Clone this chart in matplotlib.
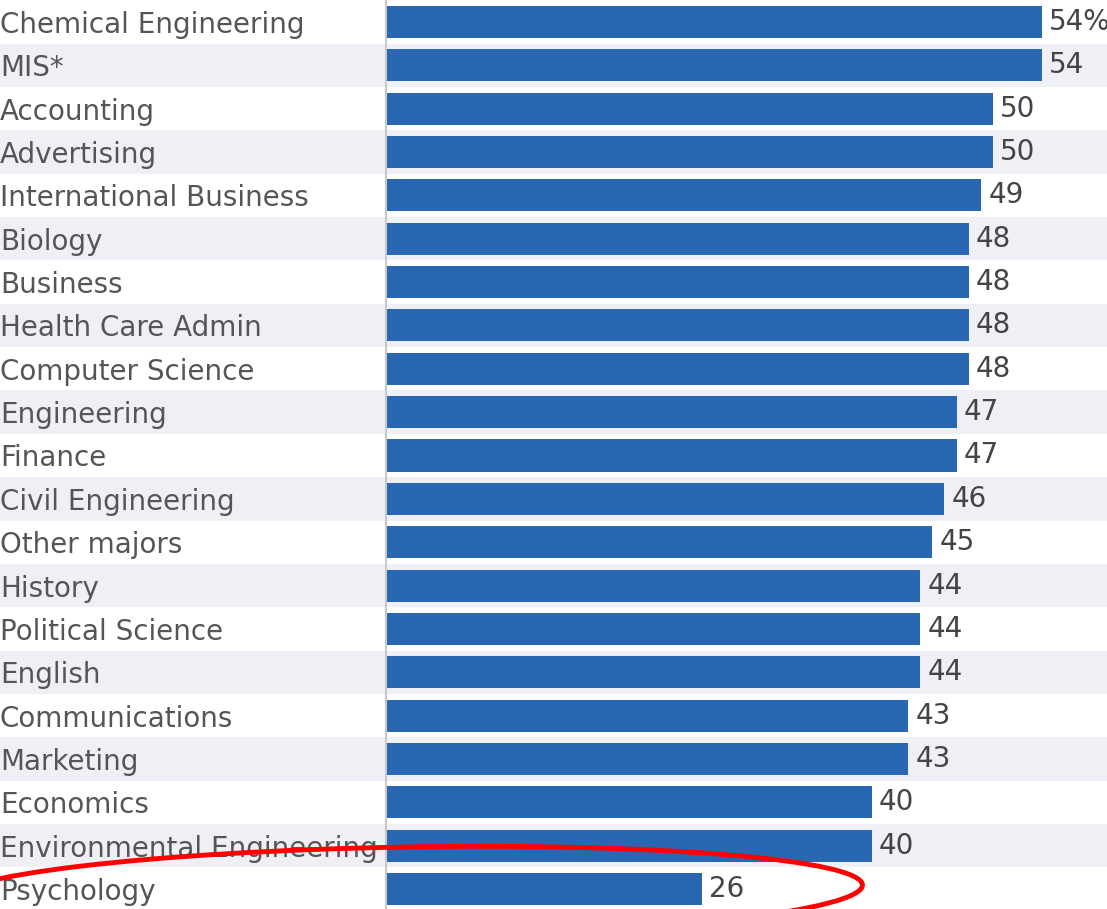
import matplotlib
matplotlib.use("Agg")
import matplotlib.pyplot as plt
from matplotlib.patches import Ellipse

majors = ["Chemical Engineering", "MIS*", "Accounting", "Advertising",
          "International Business", "Biology", "Business", "Health Care Admin",
          "Computer Science", "Engineering", "Finance", "Civil Engineering",
          "Other majors", "History", "Political Science", "English",
          "Communications", "Marketing", "Economics",
          "Environmental Engineering", "Psychology"]
values = [54, 54, 50, 50, 49, 48, 48, 48, 48, 47, 47, 46, 45, 44, 44, 44,
          43, 43, 40, 40, 26]
value_labels = ["54%"] + [str(v) for v in values[1:]]

BAR = "#2a67b2"
STRIPE = "#eef0f6"
TXT = "#555555"
FONT = "DejaVu Sans"

W, H = 1107, 909
fig = plt.figure(figsize=(W / 100, H / 100), dpi=100)
left = 386 / W
ax = fig.add_axes([left, 0, 1 - left, 1])

ys = list(range(len(majors)))
# alternating stripes across whole width
for i in ys:
    if i % 2 == 1:
        ax.axhspan(i - 0.5, i + 0.5, xmin=-left / (1 - left), xmax=1,
                   color=STRIPE, zorder=0, clip_on=False, lw=0)

ax.barh(ys, values, height=0.74, color=BAR, zorder=2)
for y, v, lab in zip(ys, values, value_labels):
    ax.text(v + 0.6, y, lab, va="center", ha="left", fontsize=20,
            color="#444444", family=FONT, zorder=3)

ax.set_xlim(0, (W - 386) / 12.14)
ax.set_ylim((H - 22) / 43.35, -22 / 43.35)
ax.set_yticks(ys)
ax.set_yticklabels(majors, fontsize=20, color=TXT, family=FONT, ha="left")
ax.tick_params(axis="y", length=0, pad=386 * 72 / 100)
ax.set_xticks([])
for s in ["top", "right", "bottom"]:
    ax.spines[s].set_visible(False)
ax.spines["left"].set_color("#c8c8c8")
ax.spines["left"].set_linewidth(1.5)
ax.patch.set_alpha(0)

# red highlight around Psychology
over = fig.add_axes([0, 0, 1, 1])
over.set_xlim(0, W)
over.set_ylim(H, 0)
over.axis("off")
over.patch.set_alpha(0)
over.add_patch(Ellipse((405, 893), 915, 92, angle=-1.0, fill=False,
                       edgecolor="#ff0000", lw=3.5))

fig.savefig("out.png", dpi=100)
